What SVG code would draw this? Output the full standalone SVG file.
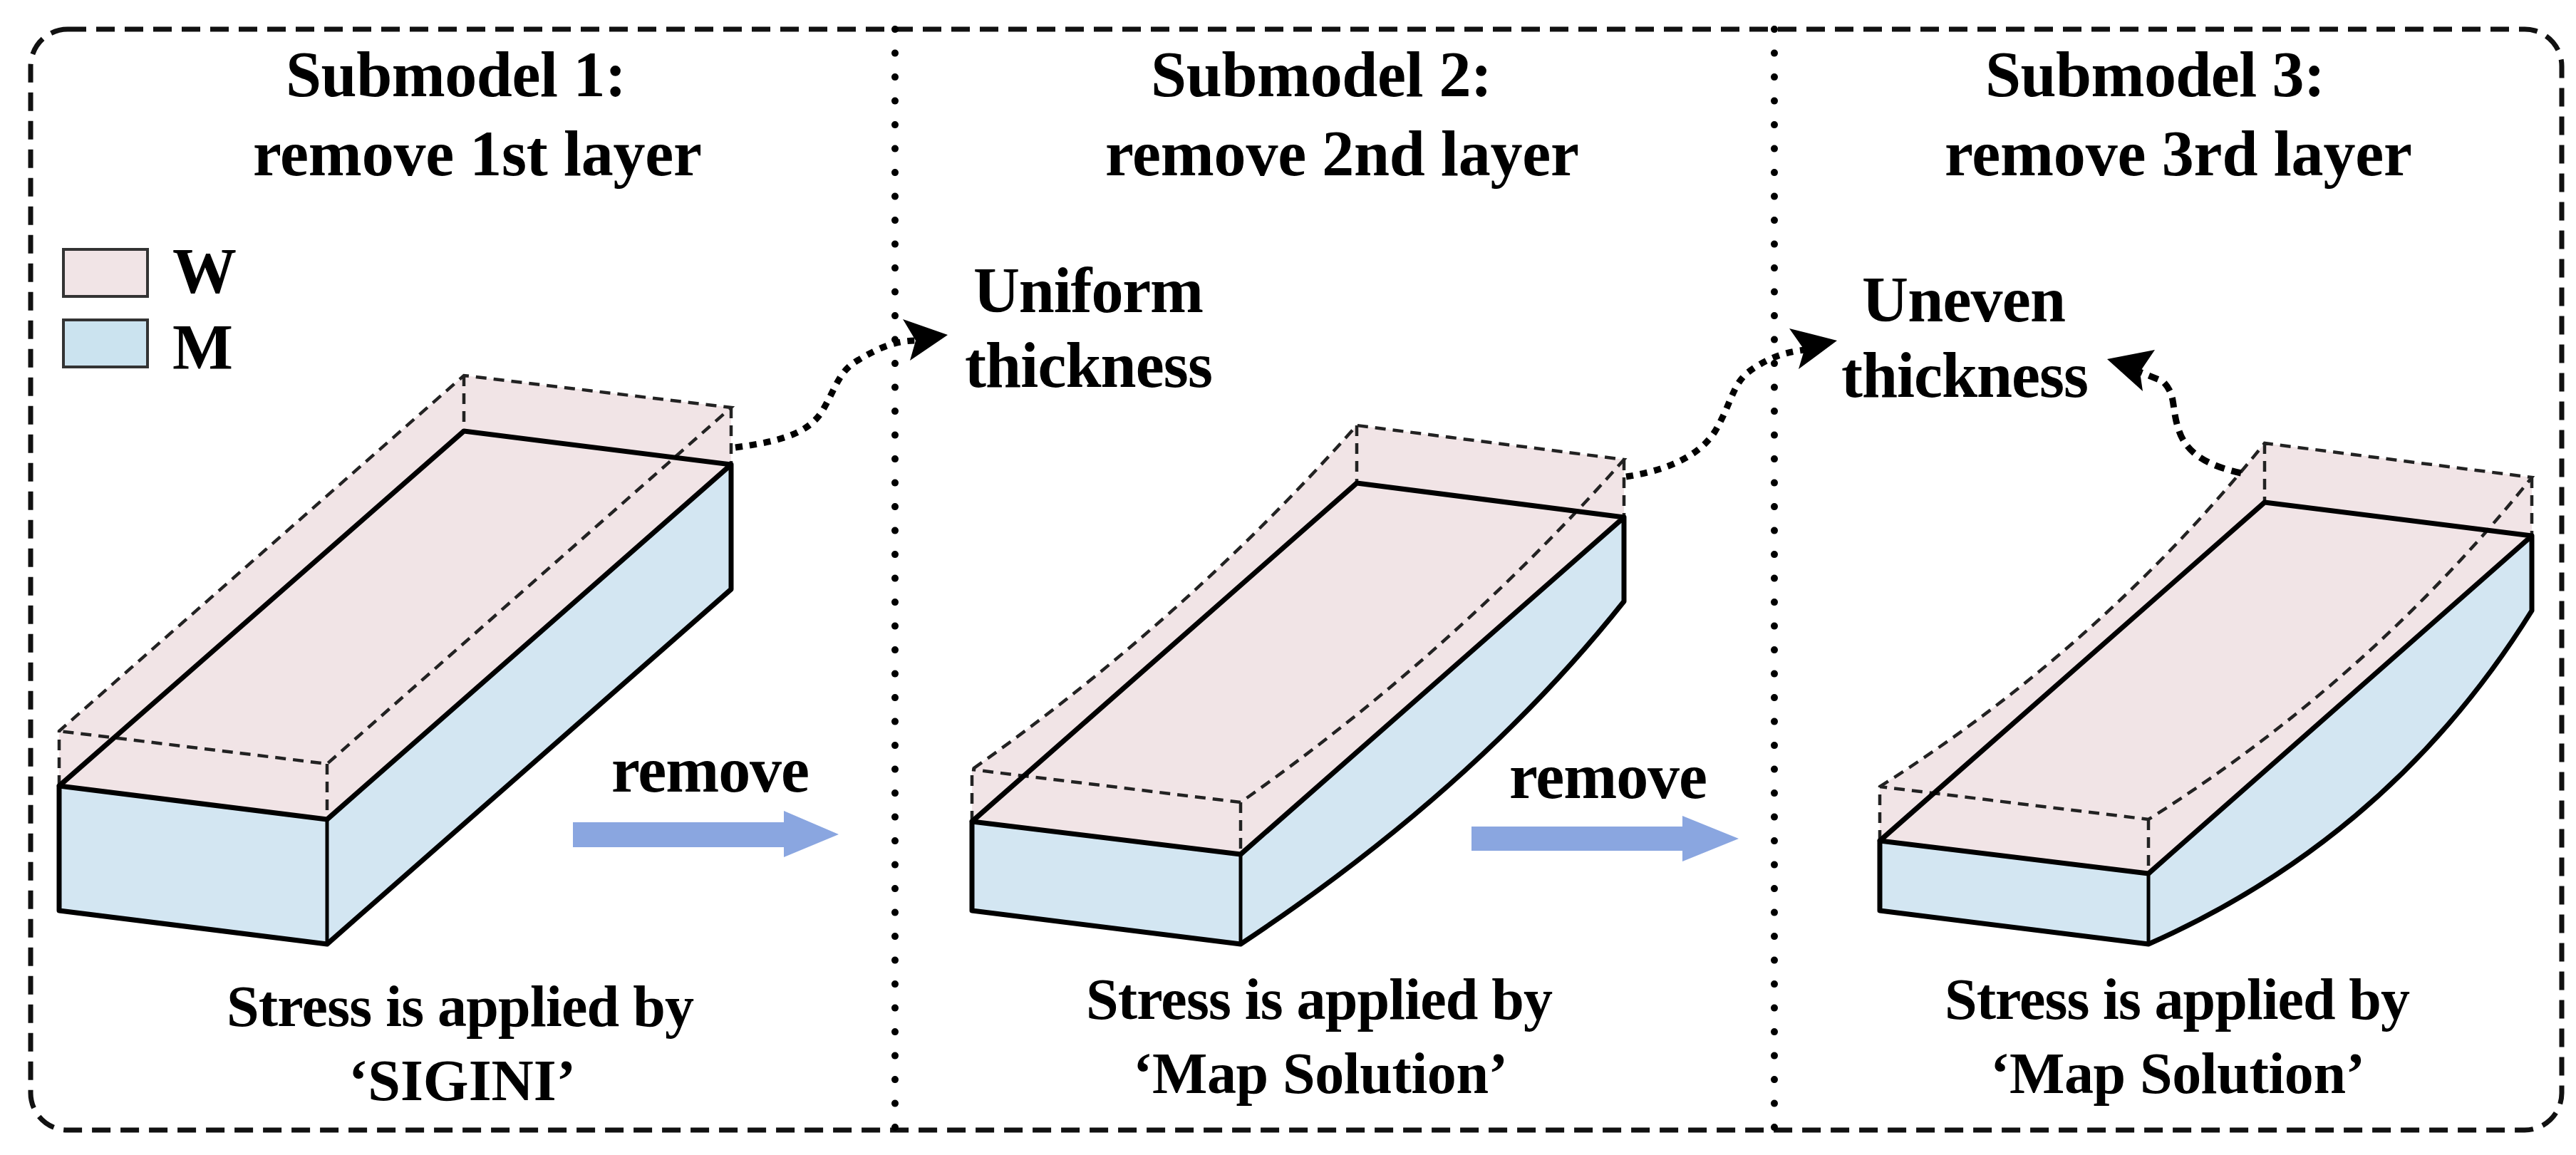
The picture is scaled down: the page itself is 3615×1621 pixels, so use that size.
<svg xmlns="http://www.w3.org/2000/svg" width="3615" height="1621" viewBox="0 0 3615 1621">
<style>
text{font-family:"Liberation Serif","Times New Roman",serif;font-weight:bold;fill:#000;font-size:90px}
.s{font-size:82px}
.pink{fill:#f1e4e6;stroke:none}
.blue{fill:#d3e6f2;stroke:none}
.solid{fill:none;stroke:#000;stroke-width:7;stroke-linejoin:round;stroke-linecap:round}
.thin{fill:none;stroke:#000;stroke-width:5;stroke-linecap:round;stroke-linejoin:round}
.dash{fill:none;stroke:#222;stroke-width:4.5;stroke-dasharray:15 10}
.frame{fill:none;stroke:#111;stroke-width:7;stroke-dasharray:26 14}
.sep{fill:none;stroke:#000;stroke-width:10;stroke-linecap:round;stroke-dasharray:0.1 33.4}
.flow{fill:none;stroke:#000;stroke-width:9;stroke-dasharray:10 10}
.head{fill:#000;stroke:none}
.rem{fill:#8aa6e0;stroke:none}
.leg{stroke:#333;stroke-width:4}
</style>
<rect width="3615" height="1621" fill="#fff"/>

<g id="frame">
<rect class="frame" x="43" y="41" width="3552" height="1545" rx="52" ry="52"/>
</g>

<g id="legend">
<rect class="leg" x="89" y="350" width="118" height="66" fill="#f1e4e6"/>
<text x="242" y="411" textLength="94">W</text>
<rect class="leg" x="89" y="449" width="118" height="66" fill="#cbe3ef"/>
<text x="242" y="518" textLength="82">M</text>
</g>

<g id="submodel-1">
<text x="401" y="135" textLength="478">Submodel 1:</text>
<text x="355" y="246" textLength="630">remove 1st layer</text>
<path class="pink" d="M83 1026L651 527L1026 572L1026 652L459 1150L83 1103Z"/>
<path class="blue" d="M83 1103L459 1150L1026 652L1026 827L459 1325L83 1278Z"/>
<path class="dash" d="M83 1103V1026L651 527L1026 572L459 1072L83 1026M651 527V605M1026 572V652M459 1072V1150"/>
<path class="solid" d="M83 1103L651 605L1026 652L459 1150L83 1103M1026 652V827L459 1325L83 1278V1103"/>
<path class="thin" d="M459 1150V1325"/>
<text class="s" x="318" y="1440" textLength="656">Stress is applied by</text>
<text class="s" x="489" y="1544" textLength="319">‘SIGINI’</text>
</g>

<g id="submodel-2">
<text x="1615" y="135" textLength="479">Submodel 2:</text>
<text x="1551" y="246" textLength="665">remove 2nd layer</text>
<path class="pink" d="M1364 1080Q1662 870 1904 597L2279 645V726L1741 1199L1364 1153Z"/>
<path class="blue" d="M1364 1153L1741 1199L2279 726V844Q2070 1107 1741 1325L1364 1278Z"/>
<path class="dash" d="M1364 1153V1080Q1662 870 1904 597L2279 645Q2038 917 1741 1126L1364 1080M1904 597V678M2279 645V726M1741 1126V1199"/>
<path class="solid" d="M1364 1153L1904 678L2279 726L1741 1199L1364 1153M2279 726V844Q2070 1107 1741 1325L1364 1278V1153"/>
<path class="thin" d="M1741 1199V1325"/>
<text class="s" x="1524" y="1430" textLength="655">Stress is applied by</text>
<text class="s" x="1590" y="1534" textLength="526">‘Map Solution’</text>
</g>

<g id="submodel-3">
<text x="2786" y="135" textLength="477">Submodel 3:</text>
<text x="2729" y="246" textLength="656">remove 3rd layer</text>
<path class="pink" d="M2638 1104Q2948 908 3178 622L3553 670V752L3015 1226L2638 1180Z"/>
<path class="blue" d="M2638 1180L3015 1226L3553 752V857Q3356 1174 3015 1325L2638 1278Z"/>
<path class="dash" d="M2638 1180V1104Q2948 908 3178 622L3553 670Q3324 955 3015 1150L2638 1104M3178 622V705M3553 670V752M3015 1150V1226"/>
<path class="solid" d="M2638 1180L3178 705L3553 752L3015 1226L2638 1180M3553 752V857Q3356 1174 3015 1325L2638 1278V1180"/>
<path class="thin" d="M3015 1226V1325"/>
<text class="s" x="2729" y="1430" textLength="653">Stress is applied by</text>
<text class="s" x="2793" y="1534" textLength="526">‘Map Solution’</text>
</g>

<g id="label-uniform">
<text x="1366" y="438" textLength="323">Uniform</text>
<text x="1354" y="543" textLength="348">thickness</text>
</g>
<g id="label-uneven">
<text x="2613" y="451" textLength="286">Uneven</text>
<text x="2584" y="557" textLength="347">thickness</text>
</g>
<g id="remove-1">
<text x="858" y="1111" textLength="278">remove</text>
<path class="rem" d="M804 1154H1100V1138L1177 1171L1100 1203V1189H804Z"/>
</g>
<g id="remove-2">
<text x="2118" y="1120" textLength="278">remove</text>
<path class="rem" d="M2065 1160H2361V1145L2440 1177L2361 1209V1194H2065Z"/>
</g>

<g id="connectors">
<path class="sep" d="M1256 41V1586"/>
<path class="sep" d="M2490 41V1586"/>
<path class="flow" d="M1032 628C1090 620 1135 610 1155 575C1175 540 1178 520 1205 505C1230 490 1255 478 1285 478"/>
<path class="head" d="M1330 470L1267 448L1285 478L1277 506Z"/>
<path class="flow" d="M2282 669C2340 660 2385 640 2407 605C2430 565 2430 545 2450 525C2475 505 2500 495 2532 491"/>
<path class="head" d="M2578 478L2511 461L2532 491L2524 518Z"/>
<path class="flow" d="M3145 664C3105 655 3070 640 3058 605C3046 570 3055 555 3035 535L3003 522" style="stroke-dasharray:14 10"/>
<path class="head" d="M2957 504L3024 491L3003 522L3007 549Z"/>
</g>
</svg>
